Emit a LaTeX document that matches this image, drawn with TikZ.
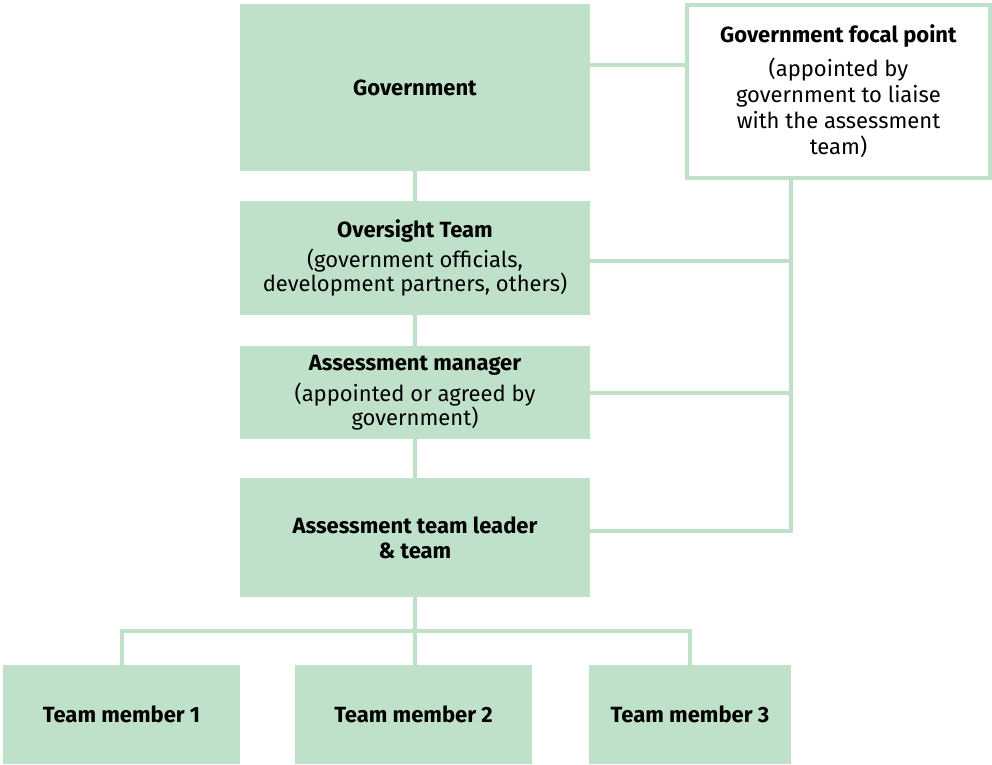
\documentclass[tikz,border=0pt]{standalone}
\usepackage{fontspec}
\setmainfont{Fira Sans}
\usepackage{xcolor}
\usepackage{tikz}
\usetikzlibrary{positioning,calc}

\definecolor{boxgreen}{HTML}{C0E1C9}

\begin{document}
\begin{tikzpicture}[x=0.75pt, y=-0.75pt,
    box/.style={fill=boxgreen, inner sep=0pt, align=center, text=black,
        font=\fontsize{16.5}{18}\selectfont},
    focalbox/.style={box, fill=white, draw=boxgreen, line width=3pt,
        font=\fontsize{16.5}{19.5}\selectfont},
    link/.style={draw=boxgreen, line width=3pt}]
    \useasboundingbox (0,0) rectangle (992,764);

    % Main column
    \node[box, minimum width=262.5pt, minimum height=125.25pt] (gov) at (415,87.5)
        {\textbf{Government}};
    \node[box, minimum width=262.5pt, minimum height=85.5pt] (over) at (415,258)
        {\textbf{Oversight Team}\\[5pt](government officials,\\development partners, others)};
    \node[box, minimum width=262.5pt, minimum height=69.75pt] (mgr) at (415,392.5)
        {\textbf{Assessment manager}\\[5pt](appointed or agreed by\\government)};
    \node[box, minimum width=262.5pt, minimum height=89.25pt] (lead) at (415,537.5)
        {\textbf{Assessment team leader}\\[1pt]\textbf{\& team}};

    % Focal point
    \node[focalbox, minimum width=227.25pt, minimum height=129.75pt] (focal) at (838.5,91.5)
        {\textbf{Government focal point}\\[6pt](appointed by\\government to liaise\\with the assessment\\team)};

    % Team members
    \node[box, minimum width=177.75pt, minimum height=74.25pt] (tm1) at (121.5,714.5)
        {\textbf{Team member 1}};
    \node[box, minimum width=177.75pt, minimum height=74.25pt] (tm2) at (413.5,714.5)
        {\textbf{Team member 2}};
    \node[box, minimum width=151.5pt, minimum height=74.25pt] (tm3) at (690,714.5)
        {\textbf{Team member 3}};

    % Connectors
    \coordinate (spine) at (791,531);
    \coordinate (bus) at (415,631);
    \draw[link] (gov) -- (over);
    \draw[link] (over) -- (mgr);
    \draw[link] (mgr) -- (lead);
    \draw[link] ([yshift=17pt]gov.east) -- ([yshift=17pt]gov.east -| focal.west);
    \draw[link] (focal.south -| spine) -- (spine) -- (spine -| lead.east);
    \draw[link] ([yshift=-2.6pt]over.east) -- ([yshift=-2.6pt]over.east -| spine);
    \draw[link] (mgr.east) -- (mgr.east -| spine);
    \draw[link] (lead.south) -- (bus);
    \draw[link] (tm1.north) |- (bus) -| (tm3.north);
    \draw[link] (bus) -- (bus |- tm2.north);
\end{tikzpicture}
\end{document}
